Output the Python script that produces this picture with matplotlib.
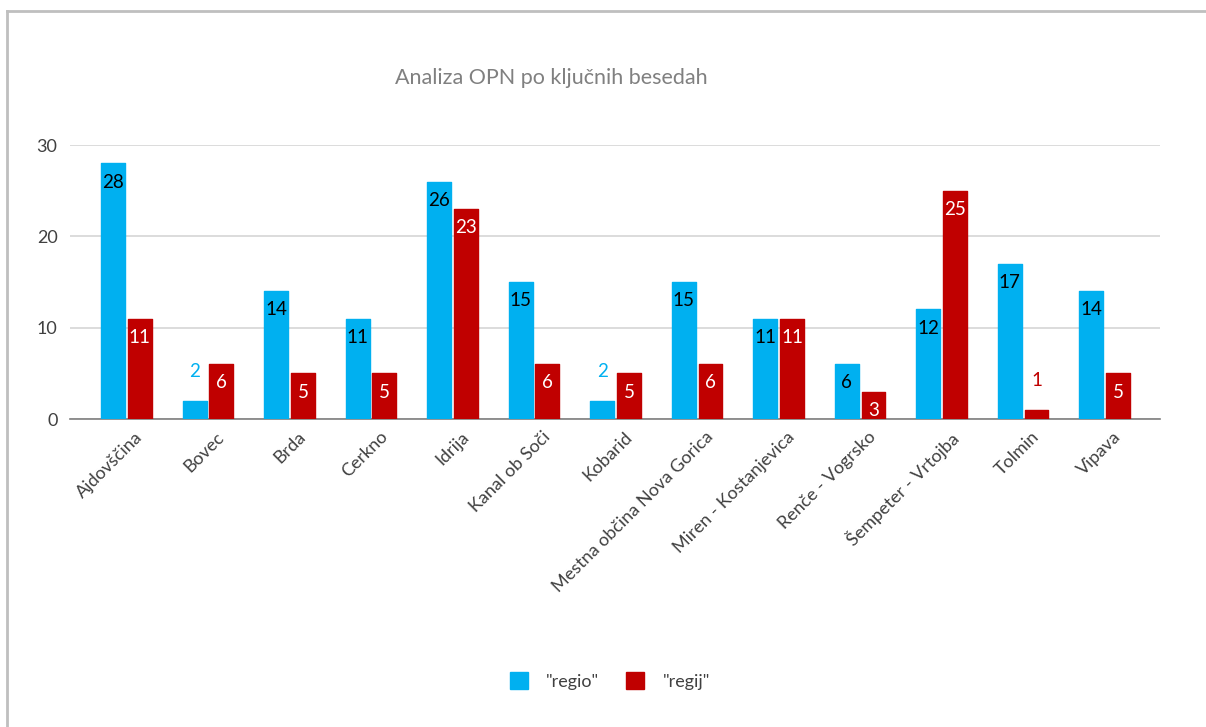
import numpy as np
import matplotlib
matplotlib.use("Agg")
import matplotlib.pyplot as plt
import matplotlib.transforms as mtransforms
from matplotlib.lines import Line2D

plt.rcParams['font.family'] = ['Lato', 'DejaVu Sans']

# podatki
obcine = ["Ajdovščina", "Bovec", "Brda", "Cerkno", "Idrija", "Kanal ob Soči",
          "Kobarid", "Mestna občina Nova Gorica", "Miren - Kostanjevica",
          "Renče - Vogrsko", "Šempeter - Vrtojba", "Tolmin", "Vipava"]
regio = [28, 2, 14, 11, 26, 15, 2, 15, 11, 6, 12, 17, 14]
regij = [11, 6, 5, 5, 23, 6, 5, 6, 11, 3, 25, 1, 5]
serije = ['"regio"', '"regij"']

BLUE = "#00B0F0"
RED = "#C00000"
W, H = 1206, 727

fig = plt.figure(figsize=(W / 100, H / 100), dpi=100)
ax = fig.add_axes([70 / W, 1 - 419 / H, (1160 - 70) / W, (419 - 145) / H])

x = np.arange(len(obcine))
bw = 0.294
off = 0.165
b1 = ax.bar(x - off, regio, bw, color=BLUE, edgecolor=BLUE, linewidth=1,
            joinstyle="round", label=serije[0], zorder=3)
b2 = ax.bar(x + off, regij, bw, color=RED, edgecolor=RED, linewidth=1,
            joinstyle="round", label=serije[1], zorder=3)

# oznake vrednosti
for bars, vals, col, txtcol in [(b1, regio, BLUE, "#000000"), (b2, regij, RED, "#ffffff")]:
    for b, v in zip(bars, vals):
        cx = b.get_x() + b.get_width() / 2
        if v <= 2:
            ax.annotate(str(v), (cx, v), xytext=(0, 21), textcoords="offset points",
                        ha="center", va="center", fontsize=13.5, color=col,
                        annotation_clip=False)
        else:
            ax.annotate(str(v), (cx, v), xytext=(0, -13.5), textcoords="offset points",
                        ha="center", va="center", fontsize=13.5, color=txtcol,
                        zorder=4)

ax.set_ylim(0, 30)
ax.set_xlim(-0.693, 12.68)
ax.set_yticks([0, 10, 20, 30])
ax.yaxis.grid(True, color="#d9d9d9", linewidth=1.3, zorder=0)
ax.set_axisbelow(True)
for s in ["top", "right", "left"]:
    ax.spines[s].set_visible(False)
ax.spines["bottom"].set_color("#7f7f7f")
ax.spines["bottom"].set_linewidth(1.2)
ax.tick_params(axis="y", length=0, pad=9, labelsize=13, labelcolor="#404040")
ax.tick_params(axis="x", length=0, pad=7)
ax.set_xticks(x)
ax.set_xticklabels(obcine, rotation=45, ha="right", va="top", rotation_mode="anchor",
                   fontsize=13, color="#404040")
shift = mtransforms.ScaledTranslation(8 / 100, 0, fig.dpi_scale_trans)
for lbl in ax.get_xticklabels():
    lbl.set_transform(lbl.get_transform() + shift)

fig.text(551 / W, 1 - 78 / H, "Analiza OPN po ključnih besedah", ha="center",
         va="center", fontsize=15.5, color="#808080")

leg = fig.legend(handles=[b1, b2], labels=serije, loc="center",
                 bbox_to_anchor=(610 / W, 1 - 681 / H), ncol=2, frameon=False,
                 fontsize=13, handlelength=1.0, handleheight=1.0,
                 handletextpad=1.0, columnspacing=1.5)
for t in leg.get_texts():
    t.set_color("#404040")

# okvir grafikona
fig.add_artist(Line2D([7 / W, 7 / W], [0, 1 - 11 / H], color="#bfbfbf", linewidth=2,
                      transform=fig.transFigure))
fig.add_artist(Line2D([7 / W, 1], [1 - 11 / H, 1 - 11 / H], color="#bfbfbf", linewidth=2,
                      transform=fig.transFigure))

fig.savefig("out.png", dpi=100, facecolor="white")
